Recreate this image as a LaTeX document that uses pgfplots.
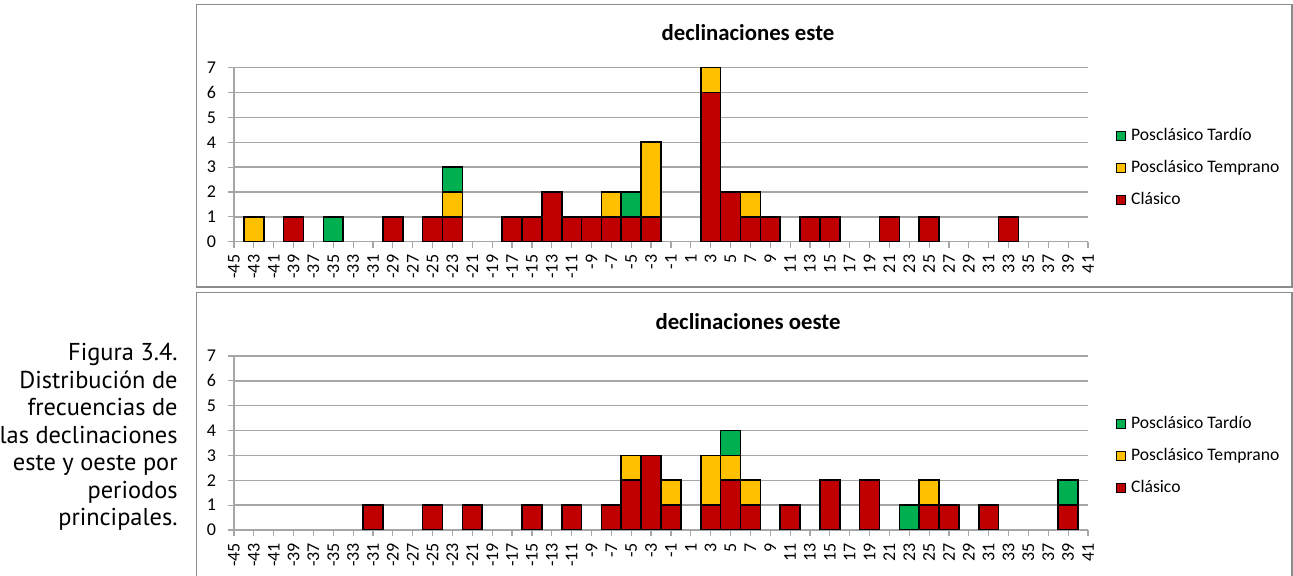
\documentclass[border=0pt]{standalone}
\usepackage{fontspec}
\setmainfont{Carlito}
\newfontfamily\capfont{PT Sans}
\usepackage{pgfplots}
\usepackage{pgfplotstable}
\pgfplotsset{compat=1.18}

\definecolor{clasico}{HTML}{C00000}
\definecolor{temprano}{HTML}{FFC000}
\definecolor{tardio}{HTML}{00B050}
\definecolor{gridgray}{HTML}{A6A6A6}
\definecolor{framegray}{HTML}{8C8C8C}

% declinacion, clasico, posclasico temprano, posclasico tardio
\pgfplotstableread{
x   c t p
-43 0 1 0
-39 1 0 0
-35 0 0 1
-29 1 0 0
-25 1 0 0
-23 1 1 1
-17 1 0 0
-15 1 0 0
-13 2 0 0
-11 1 0 0
-9  1 0 0
-7  1 1 0
-5  1 0 1
-3  1 3 0
3   6 1 0
5   2 0 0
7   1 1 0
9   1 0 0
13  1 0 0
15  1 0 0
21  1 0 0
25  1 0 0
33  1 0 0
}\este

\pgfplotstableread{
x   c t p
-31 1 0 0
-25 1 0 0
-21 1 0 0
-15 1 0 0
-11 1 0 0
-7  1 0 0
-5  2 1 0
-3  3 0 0
-1  1 1 0
3   1 2 0
5   2 1 1
7   1 1 0
11  1 0 0
15  2 0 0
19  2 0 0
23  0 0 1
25  1 1 0
27  1 0 0
31  1 0 0
39  1 0 1
}\oeste

\pgfplotsset{
  decl/.style={
    scale only axis, width=427pt, height=87pt, anchor=south west,
    ybar stacked, bar width=2, bar shift=0pt,
    xmin=-45, xmax=41, ymin=0, ymax=7, enlargelimits=false,
    xtick={-45,-43,...,41},
    xticklabels={-45,-43,-41,-39,-37,-35,-33,-31,-29,-27,-25,-23,-21,-19,-17,-15,-13,-11,-9,-7,-5,-3,-1,1,3,5,7,9,11,13,15,17,19,21,23,25,27,29,31,33,35,37,39,41},
    ytick={0,...,7},
    /pgf/number format/assume math mode=true,
    xticklabel style={rotate=90, anchor=east, font=\fontsize{9}{10}\selectfont},
    yticklabel style={font=\fontsize{9}{10}\selectfont, xshift=-2.5pt},
    axis lines=left, axis line style={-, draw=gridgray, line width=0.75pt},
    ymajorgrids, grid style={draw=gridgray, line width=0.75pt},
    tick align=outside, major tick length=3pt,
    tick style={draw=gridgray, line width=0.6pt},
    every axis plot/.append style={draw=black, line width=0.8pt},
    reverse legend,
    legend image code/.code={\draw[#1, draw=black, line width=0.6pt] (0pt,-2.25pt) rectangle (4.5pt,2.25pt);},
    legend style={draw=none, fill=none, inner sep=0pt, outer sep=0pt,
      at={(1,0.5)}, anchor=west, xshift=14pt, yshift=-6.5pt,
      row sep=7.5pt, column sep=2.5pt,
      nodes={inner sep=0pt, text height=6.5pt, text depth=2pt},
      font=\fontsize{8.8}{10}\selectfont},
    legend cell align=left,
  }
}

\begin{document}
\begin{tikzpicture}
\useasboundingbox (0pt,0pt) rectangle (646.5pt,288pt);

% chart area frames
\draw[framegray, line width=0.75pt] (98.35pt,144.5pt) rectangle (645.9pt,285.65pt);
\draw[framegray, line width=0.75pt] (98.35pt,-1pt) -- (98.35pt,141.65pt) -- (645.9pt,141.65pt) -- (645.9pt,-1pt);

\begin{axis}[decl, at={(117pt,167.15pt)}]
  \addplot[fill=clasico] table[x=x, y=c] {\este};
  \addlegendentry{Clásico}
  \addplot[fill=temprano] table[x=x, y=t] {\este};
  \addlegendentry{Posclásico Temprano}
  \addplot[fill=tardio] table[x=x, y=p] {\este};
  \addlegendentry{Posclásico Tardío}
\end{axis}
\node[font=\bfseries\fontsize{11.4}{13}\selectfont] at (374pt,271.5pt) {declinaciones este};

\begin{axis}[decl, at={(117pt,23pt)}]
  \addplot[fill=clasico] table[x=x, y=c] {\oeste};
  \addlegendentry{Clásico}
  \addplot[fill=temprano] table[x=x, y=t] {\oeste};
  \addlegendentry{Posclásico Temprano}
  \addplot[fill=tardio] table[x=x, y=p] {\oeste};
  \addlegendentry{Posclásico Tardío}
\end{axis}
\node[font=\bfseries\fontsize{11.4}{13}\selectfont] at (374pt,127pt) {declinaciones oeste};

% caption
\foreach \txt [count=\i from 0] in {Figura 3.4.,Distribución de,frecuencias de,las declinaciones,este y oeste por,periodos,principales.}
  \node[anchor=base east, inner sep=0pt, font=\capfont\fontsize{12.2}{14}\selectfont]
    at (89pt,107.5pt-13.72pt*\i) {\txt};
\end{tikzpicture}
\end{document}
